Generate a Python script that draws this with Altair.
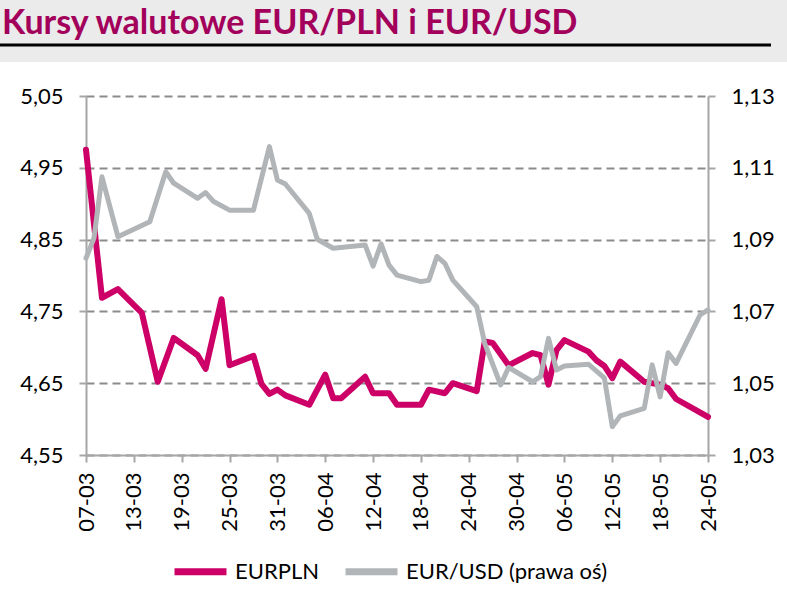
import altair as alt
import pandas as pd

# ---- data ----
pln_dates = ["2022-03-07", "2022-03-09", "2022-03-11", "2022-03-14", "2022-03-16", "2022-03-18",
             "2022-03-21", "2022-03-22", "2022-03-24", "2022-03-25", "2022-03-28", "2022-03-29",
             "2022-03-30", "2022-03-31", "2022-04-01", "2022-04-04", "2022-04-06", "2022-04-07",
             "2022-04-08", "2022-04-11", "2022-04-12", "2022-04-14", "2022-04-15", "2022-04-18",
             "2022-04-19", "2022-04-21", "2022-04-22", "2022-04-25", "2022-04-26", "2022-04-27",
             "2022-04-29", "2022-05-02", "2022-05-03", "2022-05-04", "2022-05-05", "2022-05-06",
             "2022-05-09", "2022-05-10", "2022-05-11", "2022-05-12", "2022-05-13", "2022-05-16",
             "2022-05-18", "2022-05-19", "2022-05-20", "2022-05-24"]
pln_values = [4.975, 4.769, 4.781, 4.748, 4.652, 4.713,
              4.689, 4.670, 4.767, 4.675, 4.688, 4.649,
              4.635, 4.641, 4.633, 4.620, 4.662, 4.629,
              4.629, 4.659, 4.636, 4.636, 4.620, 4.620,
              4.641, 4.636, 4.650, 4.639, 4.708, 4.706,
              4.675, 4.692, 4.689, 4.648, 4.696, 4.710,
              4.694, 4.682, 4.674, 4.657, 4.680, 4.652,
              4.648, 4.643, 4.628, 4.603]

usd_dates = ["2022-03-07", "2022-03-08", "2022-03-09", "2022-03-11", "2022-03-15", "2022-03-17",
             "2022-03-18", "2022-03-21", "2022-03-22", "2022-03-23", "2022-03-25", "2022-03-28",
             "2022-03-30", "2022-03-31", "2022-04-01", "2022-04-04", "2022-04-05", "2022-04-07",
             "2022-04-11", "2022-04-12", "2022-04-13", "2022-04-14", "2022-04-15", "2022-04-18",
             "2022-04-19", "2022-04-20", "2022-04-21", "2022-04-22", "2022-04-25", "2022-04-26",
             "2022-04-28", "2022-04-29", "2022-05-02", "2022-05-03", "2022-05-04", "2022-05-05",
             "2022-05-06", "2022-05-09", "2022-05-11", "2022-05-12", "2022-05-13", "2022-05-16",
             "2022-05-17", "2022-05-18", "2022-05-19", "2022-05-20", "2022-05-23", "2022-05-24"]
usd_values = [1.0848, 1.0904, 1.1075, 1.0908, 1.0950, 1.1089,
              1.1057, 1.1015, 1.1031, 1.1006, 1.0982, 1.0982,
              1.1159, 1.1066, 1.1055, 1.0973, 1.0901, 1.0876,
              1.0885, 1.0826, 1.0888, 1.0829, 1.0801, 1.0783,
              1.0787, 1.0853, 1.0834, 1.0787, 1.0713, 1.0611,
              1.0495, 1.0544, 1.0504, 1.0518, 1.0625, 1.0537,
              1.0548, 1.0553, 1.0515, 1.0379, 1.0409, 1.0430,
              1.0551, 1.0462, 1.0585, 1.0555, 1.0690, 1.0704]

x_tick_days = [(2022, 3, 7), (2022, 3, 13), (2022, 3, 19), (2022, 3, 25), (2022, 3, 31),
               (2022, 4, 6), (2022, 4, 12), (2022, 4, 18), (2022, 4, 24), (2022, 4, 30),
               (2022, 5, 6), (2022, 5, 12), (2022, 5, 18), (2022, 5, 24)]
left_ticks = [4.55, 4.65, 4.75, 4.85, 4.95, 5.05]
right_ticks = [1.03, 1.05, 1.07, 1.09, 1.11, 1.13]

series_names = ["EURPLN", "EUR/USD (prawa oś)"]
series_colors = ["#cc0066", "#b2b5b8"]
title_text = "Kursy walutowe EUR/PLN i EUR/USD"

# ---- tables ----
df_pln = pd.DataFrame({"date": [d + "T00:00:00" for d in pln_dates],
                       "value": pln_values, "series": series_names[0]})
df_usd = pd.DataFrame({"date": [d + "T00:00:00" for d in usd_dates],
                       "value": usd_values, "series": series_names[1]})

FONT = "Lato"
AXIS_GRAY = "#a6a6a6"
x_ticks = [alt.DateTime(year=y, month=m, date=d) for (y, m, d) in x_tick_days]

x_enc = alt.X("date:T", title=None,
              scale=alt.Scale(domain=[x_ticks[0], x_ticks[-1]]),
              axis=alt.Axis(values=x_ticks, format="%d-%m", labelAngle=270,
                            grid=False, tickSize=7, tickWidth=2, tickColor=AXIS_GRAY,
                            domainColor=AXIS_GRAY, domainWidth=2, labelPadding=10,
                            labelFont=FONT, labelFontSize=22, labelColor="black"))

color_enc = alt.Color("series:N",
                      scale=alt.Scale(domain=series_names, range=series_colors),
                      legend=alt.Legend(orient="none", legendX=85, legendY=446,
                                        direction="horizontal", title=None,
                                        symbolType="stroke", symbolSize=2700,
                                        symbolStrokeWidth=7, labelFont=FONT,
                                        labelFontSize=22, labelColor="black",
                                        labelLimit=400,
                                        labelOffset=5, columnPadding=12))

pln_line = alt.Chart(df_pln).mark_line(strokeWidth=6, strokeJoin="round", strokeCap="round").encode(
    x=x_enc,
    y=alt.Y("value:Q", title=None,
            scale=alt.Scale(domain=[4.55, 5.05], nice=False, zero=False),
            axis=alt.Axis(orient="left", values=left_ticks, grid=True,
                          gridDash=[8, 5], gridColor="#8c8c8c", gridWidth=2,
                          labelExpr="replace(format(datum.value, '.2f'), '.', ',')",
                          tickSize=7, tickWidth=2, tickColor=AXIS_GRAY,
                          domainColor=AXIS_GRAY, domainWidth=2, labelPadding=16,
                          labelFont=FONT, labelFontSize=22, labelColor="black")),
    color=color_enc,
)

usd_line = alt.Chart(df_usd).mark_line(strokeWidth=5, strokeJoin="round", strokeCap="round").encode(
    x=x_enc,
    y=alt.Y("value:Q", title=None,
            scale=alt.Scale(domain=[1.03, 1.13], nice=False, zero=False),
            axis=alt.Axis(orient="right", values=right_ticks, grid=False,
                          labelExpr="replace(format(datum.value, '.2f'), '.', ',')",
                          tickSize=7, tickWidth=2, tickColor=AXIS_GRAY,
                          domainColor=AXIS_GRAY, domainWidth=2, labelPadding=16,
                          labelFont=FONT, labelFontSize=22, labelColor="black")),
    color=color_enc,
)

# header decoration: gray band, title text and black rule above the plot
one = pd.DataFrame({"k": [0]})
band = alt.Chart(one).mark_rect(color="#ebebeb").encode(
    x=alt.value(-86), x2=alt.value(701), y=alt.value(-96), y2=alt.value(-34))
rule = alt.Chart(one).mark_rule(color="black", strokeWidth=3).encode(
    x=alt.value(-86), x2=alt.value(685), y=alt.value(-51))
title = alt.Chart(one).mark_text(
    text=title_text, align="left", baseline="alphabetic", font=FONT,
    fontSize=34, fontWeight="bold", color="#a3005b").encode(
    x=alt.value(-84), y=alt.value(-62))

chart = alt.layer(band, rule, title, pln_line, usd_line).resolve_scale(
    y="independent"
).properties(
    width=622, height=359,
    autosize=alt.AutoSizeParams(type="none"),
    padding={"left": 86, "top": 96, "right": 79, "bottom": 156},
    background="white",
).configure_view(stroke=None)

chart.save("out.html", embed_options={"renderer": "svg", "actions": False})
